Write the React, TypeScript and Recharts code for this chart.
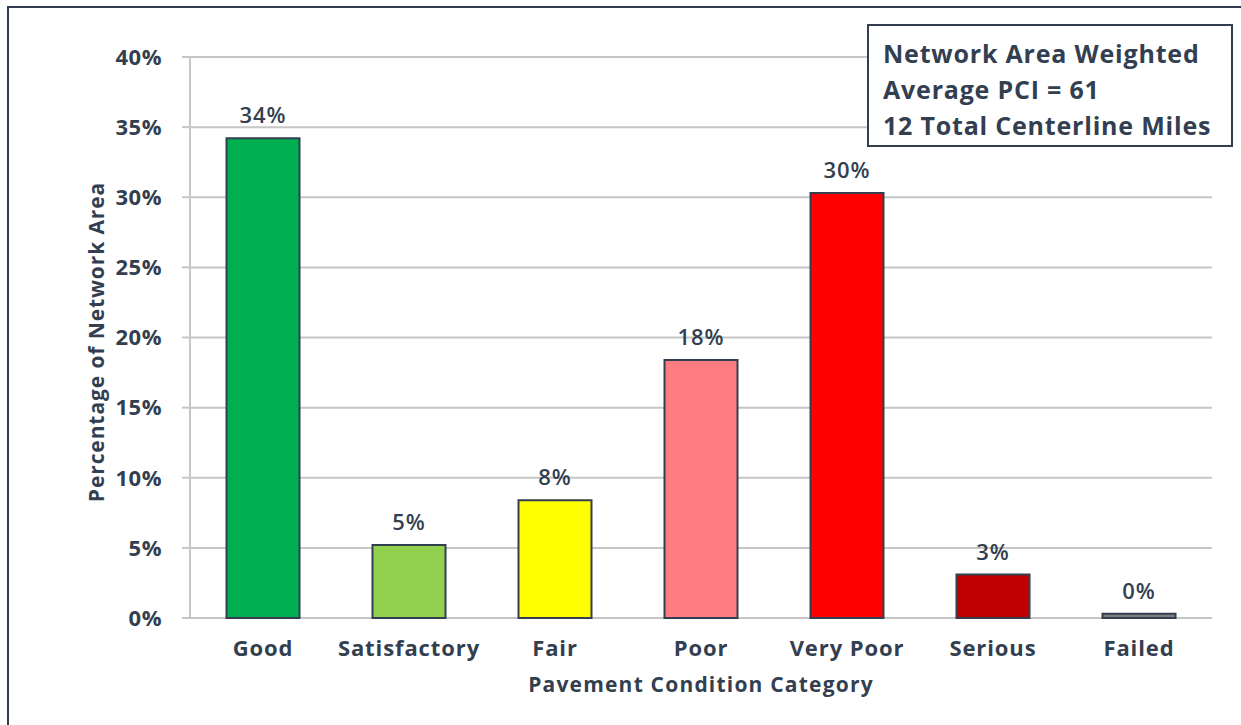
import { BarChart, Bar, XAxis, YAxis, CartesianGrid, Cell, LabelList, Label } from 'recharts';

const categories = ['Good', 'Satisfactory', 'Fair', 'Poor', 'Very Poor', 'Serious', 'Failed'];
const shares = [34.2, 5.2, 8.4, 18.4, 30.3, 3.1, 0.3];
const barColors = ['#00B050', '#92D050', '#FFFF00', '#FF7C80', '#FF0000', '#C00000', '#808080'];
const yTicks = [0, 5, 10, 15, 20, 25, 30, 35, 40];
const boundaryTicks = [0, 1, 2, 3, 4, 5, 6, 7];
const noteLines = ['Network Area Weighted', 'Average PCI = 61', '12 Total Centerline Miles'];

const INK = '#333f50';
const GRID = '#c6c6c6';
const FONT = '"Open Sans", Lato, sans-serif';

const data = categories.map((name, i) => ({ name, idx: i + 0.5, value: shares[i] }));

export default function App() {
    return (
        <div style={{ position: 'absolute', left: 0, top: 0, width: 1241, height: 725, background: '#fff', overflow: 'hidden', fontFamily: FONT }}>
            <div style={{ position: 'absolute', left: 7, top: 6, width: 1260, height: 760, border: `2px solid ${INK}` }} />
            <BarChart
                width={1241}
                height={725}
                data={data}
                margin={{ top: 57, right: 29, bottom: 67, left: 80 }}
                barCategoryGap="25%"
                style={{ position: 'absolute', left: 0, top: 0 }}
            >
                <CartesianGrid vertical={false} stroke={GRID} strokeWidth={2} />
                <XAxis
                    xAxisId="ticks"
                    type="number"
                    dataKey="idx"
                    domain={[0, 7]}
                    ticks={boundaryTicks}
                    height={0}
                    axisLine={{ stroke: GRID, strokeWidth: 2 }}
                    tickLine={{ stroke: GRID, strokeWidth: 2 }}
                    tickSize={8}
                    tick={() => <g />}
                />
                <XAxis
                    dataKey="name"
                    height={40}
                    axisLine={false}
                    tickLine={false}
                    tickSize={0}
                    tickMargin={22}
                    interval={0}
                    tick={{ fill: INK, fontSize: 22, fontWeight: 700, fontFamily: FONT, letterSpacing: 0.9 }}
                >
                    <Label
                        content={() => (
                            <text x={701} y={692} textAnchor="middle" fill={INK} fontSize={21} fontWeight={700} fontFamily={FONT} letterSpacing={1.2}>
                                Pavement Condition Category
                            </text>
                        )}
                    />
                </XAxis>
                <YAxis
                    width={110}
                    domain={[0, 40]}
                    ticks={yTicks}
                    tickFormatter={(v) => `${v}%`}
                    axisLine={{ stroke: GRID, strokeWidth: 2 }}
                    tickLine={{ stroke: GRID, strokeWidth: 2 }}
                    tickSize={8}
                    tickMargin={20}
                    tick={{ fill: INK, fontSize: 22, fontWeight: 700, fontFamily: FONT, letterSpacing: 0.5 }}
                >
                    <Label
                        content={() => (
                            <text
                                x={104}
                                y={342}
                                transform="rotate(-90 104 342)"
                                textAnchor="middle"
                                fill={INK}
                                fontSize={21}
                                fontWeight={700}
                                fontFamily={FONT}
                                letterSpacing={0.9}
                            >
                                Percentage of Network Area
                            </text>
                        )}
                    />
                </YAxis>
                <Bar dataKey="value" stroke={INK} strokeWidth={2} isAnimationActive={false}>
                    {data.map((d, i) => (
                        <Cell key={d.name} fill={barColors[i]} />
                    ))}
                    <LabelList
                        dataKey="value"
                        position="top"
                        offset={15}
                        formatter={(v: number) => `${Math.round(v)}%`}
                        style={{ fill: INK, fontSize: 22, fontWeight: 600, fontFamily: FONT, letterSpacing: 1 }}
                    />
                </Bar>
            </BarChart>
            <div
                style={{
                    position: 'absolute',
                    left: 867,
                    top: 24,
                    border: `2px solid ${INK}`,
                    background: '#fff',
                    boxSizing: 'content-box',
                    padding: '9px 0 0 14px',
                    color: INK,
                    fontSize: 25,
                    fontWeight: 700,
                    letterSpacing: 0.8,
                    lineHeight: '36px',
                    height: 110,
                    width: 348,
                    whiteSpace: 'nowrap',
                }}
            >
                {noteLines.map((t) => (
                    <div key={t}>{t}</div>
                ))}
            </div>
        </div>
    );
}
